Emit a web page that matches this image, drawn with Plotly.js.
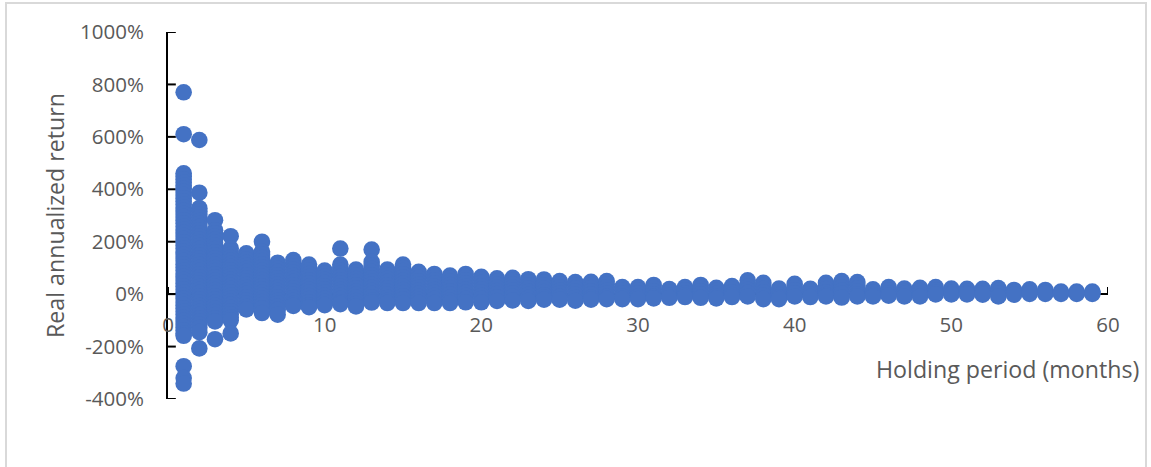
<!DOCTYPE html>
<html>
<head>
<meta charset="utf-8">
<script src="https://cdn.plot.ly/plotly-3.0.1.min.js"></script>
<style>
html,body{margin:0;padding:0;background:#fff;width:1151px;height:467px;overflow:hidden}
#frame{position:absolute;left:5px;top:2px;width:1142px;height:470px;border:2px solid #d9d9d9;box-sizing:border-box}
#chart{position:absolute;left:0;top:0;width:1151px;height:467px}
</style>
</head>
<body>
<div id="frame"></div>
<div id="chart"></div>
<script>
const yTickValues = [-400,-200,0,200,400,600,800,1000];
const xTickValues = [0,10,20,30,40,50,60];
const xAxisTitle = "Holding period (months)";
const yAxisTitle = "Real annualized return";

// Real annualized return (%) read per holding period; index 0 is month 1.
const returnsByMonth = [
/*1*/ [770,610,461,450,438,426,414,402,390,378,366,354,342,330,318,306,294,282,270,258,246,234,222,210,198,186,174,162,150,138,126,114,102,90,78,66,54,42,30,18,6,-6,-18,-30,-42,-54,-66,-78,-90,-102,-114,-126,-138,-150,-159,-275,-320,-341],
/*2*/ [588,387,328,316,304,292,280,268,256,244,232,220,208,196,184,172,160,148,136,124,112,100,88,76,64,52,40,28,16,4,-8,-20,-32,-44,-56,-68,-80,-92,-104,-116,-128,-145,-207],
/*3*/ [282,244,232,220,208,196,184,172,160,148,136,124,112,100,88,76,64,52,40,28,16,4,-8,-20,-32,-44,-56,-68,-80,-92,-104,-172],
/*4*/ [221,175,163,151,139,127,115,103,91,79,67,55,43,31,19,7,-5,-17,-29,-41,-53,-65,-77,-89,-100,-150],
/*5*/ [156,144,132,120,108,96,84,72,60,48,36,24,12,0,-12,-24,-36,-48,-58],
/*6*/ [200,162,150,138,126,114,102,90,78,66,54,42,30,18,6,-6,-18,-30,-42,-54,-72],
/*7*/ [120,108,96,84,72,60,48,36,24,12,0,-12,-24,-36,-48,-60,-78],
/*8*/ [130,118,106,94,82,70,58,46,34,22,10,-2,-14,-26,-38,-45],
/*9*/ [113,101,89,77,65,53,41,29,17,5,-7,-19,-31,-43,-50],
/*10*/ [90,78,66,54,42,30,18,6,-6,-18,-30,-42],
/*11*/ [174,113,101,89,77,65,53,41,29,17,5,-7,-19,-31,-38],
/*12*/ [94,82,70,58,46,34,22,10,-2,-14,-26,-38,-47],
/*13*/ [170,123,108,96,84,72,60,48,36,24,12,0,-12,-24,-32],
/*14*/ [94,82,70,58,46,34,22,10,-2,-14,-26,-34],
/*15*/ [113,100,88,76,64,52,40,28,16,4,-8,-20,-34],
/*16*/ [85,73,61,49,37,25,13,1,-11,-23,-34],
/*17*/ [77,65,53,41,29,17,5,-7,-19,-34],
/*18*/ [71,59,47,35,23,11,-1,-13,-25,-34],
/*19*/ [77,65,53,41,29,17,5,-7,-19,-31],
/*20*/ [66,54,42,30,18,6,-6,-18,-31],
/*21*/ [60,48,36,24,12,0,-12,-26],
/*22*/ [62,50,38,26,14,2,-10,-24],
/*23*/ [57,45,33,21,9,-3,-15,-26],
/*24*/ [56,44,32,20,8,-4,-14,-21],
/*25*/ [50,38,26,14,2,-10,-21],
/*26*/ [46,34,22,10,-2,-14,-25],
/*27*/ [47,35,23,11,-1,-13,-21],
/*28*/ [50,38,26,14,2,-10,-19],
/*29*/ [27,15,3,-9,-19],
/*30*/ [27,15,3,-9,-19],
/*31*/ [35,23,11,-1,-10,-16],
/*32*/ [19,7,-5,-14],
/*33*/ [27,15,3,-5,-11],
/*34*/ [35,23,11,-1,-14],
/*35*/ [24,12,0,-8,-16],
/*36*/ [31,19,7,-3,-11],
/*37*/ [53,40,28,16,4,-9],
/*38*/ [43,31,19,7,-5,-19],
/*39*/ [21,9,-3,-12,-19],
/*40*/ [39,27,15,3,-9],
/*41*/ [20,8,-2,-11],
/*42*/ [43,31,19,7,-3,-9],
/*43*/ [50,38,26,14,2,-13],
/*44*/ [46,34,22,10,-2,-9],
/*45*/ [18,6,-3,-9],
/*46*/ [27,15,3,-6],
/*47*/ [21,9,0,-9],
/*48*/ [24,12,0,-9],
/*49*/ [27,15,6,-1],
/*50*/ [21,12,4,-1],
/*51*/ [20,11,3,-1],
/*52*/ [20,11,3,-2],
/*53*/ [23,12,2,-9],
/*54*/ [16,8,-2],
/*55*/ [18,9,1],
/*56*/ [16,8,1],
/*57*/ [10,5,1],
/*58*/ [10,5,1],
/*59*/ [10,5,1]
];

const xs = [], ys = [];
returnsByMonth.forEach(function (vals, i) {
  vals.forEach(function (v) { xs.push(i + 1); ys.push(v); });
});

const fam = '"Open Sans", sans-serif';
const tickFont = {family: fam, size: 20.5, color: '#595959'};
const titleFont = {family: fam, size: 23.2, color: '#595959'};
const tickLine = {color: '#000', width: 2};

// Tick marks that point into the plot, placed through the axes' own data scale.
const tickShapes = yTickValues.map(function (v) {
  return {type: 'line', layer: 'below', xref: 'x', yref: 'y', x0: 0, x1: 0.5, y0: v, y1: v, line: tickLine};
}).concat(xTickValues.map(function (v) {
  return {type: 'line', layer: 'below', xref: 'x', yref: 'y', x0: v, x1: v, y0: 0, y1: 27, line: tickLine};
}));

Plotly.newPlot('chart', [{
  type: 'scatter', mode: 'markers', x: xs, y: ys, cliponaxis: false,
  marker: {color: '#4472C4', size: 16.6, line: {width: 0}},
  hoverinfo: 'x+y'
}], {
  width: 1151, height: 467,
  margin: {l: 167.5, r: 43, t: 32, b: 68, pad: 0},
  paper_bgcolor: 'rgba(0,0,0,0)', plot_bgcolor: 'rgba(0,0,0,0)',
  showlegend: false,
  shapes: tickShapes,
  xaxis: {
    range: [0, 60], tickmode: 'array', tickvals: xTickValues, ticktext: xTickValues.map(String),
    anchor: 'free', position: 400 / 1400, side: 'bottom',
    showgrid: false, zeroline: false, showline: true, linecolor: '#000', linewidth: 2,
    ticks: '', layer: 'below traces',
    ticklabelstandoff: 12, tickfont: tickFont
  },
  yaxis: {
    range: [-400, 1000], tickmode: 'array', tickvals: yTickValues,
    ticktext: yTickValues.map(function (v) { return v + '%'; }),
    showgrid: false, zeroline: false, showline: true, linecolor: '#000', linewidth: 2,
    ticks: '', layer: 'below traces',
    ticklabelstandoff: 18, tickfont: tickFont,
    title: {text: yAxisTitle, font: titleFont, standoff: 9}
  },
  annotations: [{
    text: xAxisTitle, xref: 'paper', yref: 'paper',
    x: (1141 - 167.5) / 940.5, y: (399 - 369) / 367,
    xanchor: 'right', yanchor: 'middle', showarrow: false, font: titleFont
  }]
}, {displayModeBar: false, staticPlot: true});
</script>
</body>
</html>
